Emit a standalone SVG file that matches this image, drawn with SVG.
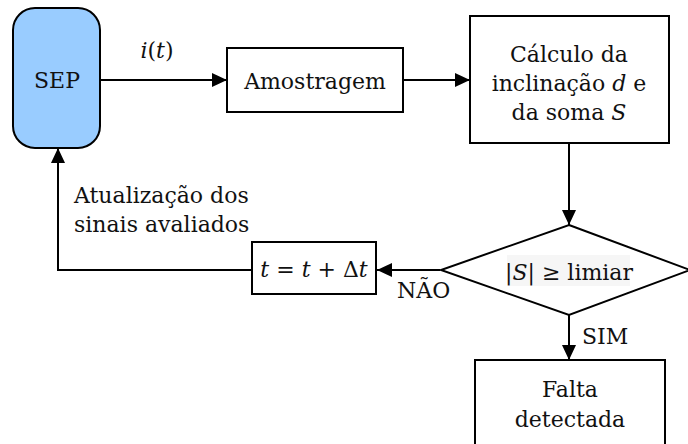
<svg xmlns="http://www.w3.org/2000/svg" width="688" height="444" viewBox="0 0 688 444">
  <defs>
    <marker id="arrow" viewBox="0 0 15 14" refX="15" refY="7" markerWidth="15" markerHeight="14" markerUnits="userSpaceOnUse" orient="auto">
      <path d="M0,0 L15,7 L0,14 Z" fill="#000"/>
    </marker>
    <style>
      .box { fill: #fff; stroke: #000; stroke-width: 2; }
      .sep { fill: #99ccff; stroke: #000; stroke-width: 2; }
      .edge { fill: none; stroke: #000; stroke-width: 2; marker-end: url(#arrow); }
      text { font-family: "DejaVu Serif", "Liberation Serif", serif; font-size: 22px; fill: #111; }
      .c { text-anchor: middle; }
      .i { font-style: italic; }
    </style>
  </defs>

  <rect width="688" height="444" fill="#fff"/>

  <g id="connectors">
    <line class="edge" x1="100" y1="80" x2="227" y2="80"/>
    <line class="edge" x1="403" y1="80" x2="470" y2="80"/>
    <line class="edge" x1="569" y1="143" x2="569" y2="225"/>
    <line class="edge" x1="569" y1="315" x2="569" y2="360"/>
    <line class="edge" x1="440" y1="270" x2="377" y2="270"/>
    <polyline class="edge" points="252,270 58,270 58,148"/>
    <text x="157" y="58" class="c i">i<tspan font-style="normal">(</tspan>t<tspan font-style="normal">)</tspan></text>
    <text x="74" y="203">Atualização dos</text>
    <text x="74" y="232">sinais avaliados</text>
    <text x="397" y="298">NÃO</text>
    <text x="582" y="344">SIM</text>
  </g>

  <g id="sep">
    <rect class="sep" x="13" y="8" width="87" height="140" rx="22" ry="22"/>
    <text x="57" y="88" class="c">SEP</text>
  </g>

  <g id="amostragem">
    <rect class="box" x="227" y="48" width="176" height="64"/>
    <text x="315" y="89" class="c">Amostragem</text>
  </g>

  <g id="calculo">
    <rect class="box" x="470" y="16" width="199" height="127"/>
    <text x="569" y="62" class="c">Cálculo da</text>
    <text x="569" y="91" class="c">inclinação <tspan class="i">d</tspan> e</text>
    <text x="569" y="120" class="c">da soma <tspan class="i">S</tspan></text>
  </g>

  <g id="decisao">
    <polygon class="box" points="569,225 690,270 569,315 441,270"/>
    <rect x="507" y="255" width="123" height="31" fill="#f6f6f6"/>
    <text x="569" y="280" class="c">|<tspan class="i">S</tspan>| ≥ limiar</text>
  </g>

  <g id="incremento">
    <rect class="box" x="252" y="242" width="124" height="52"/>
    <text x="314" y="277" class="c"><tspan class="i">t</tspan> = <tspan class="i">t</tspan> + Δ<tspan class="i">t</tspan></text>
  </g>

  <g id="falta">
    <rect class="box" x="475" y="360" width="190" height="100"/>
    <text x="570" y="397" class="c">Falta</text>
    <text x="570" y="427" class="c">detectada</text>
  </g>
</svg>
